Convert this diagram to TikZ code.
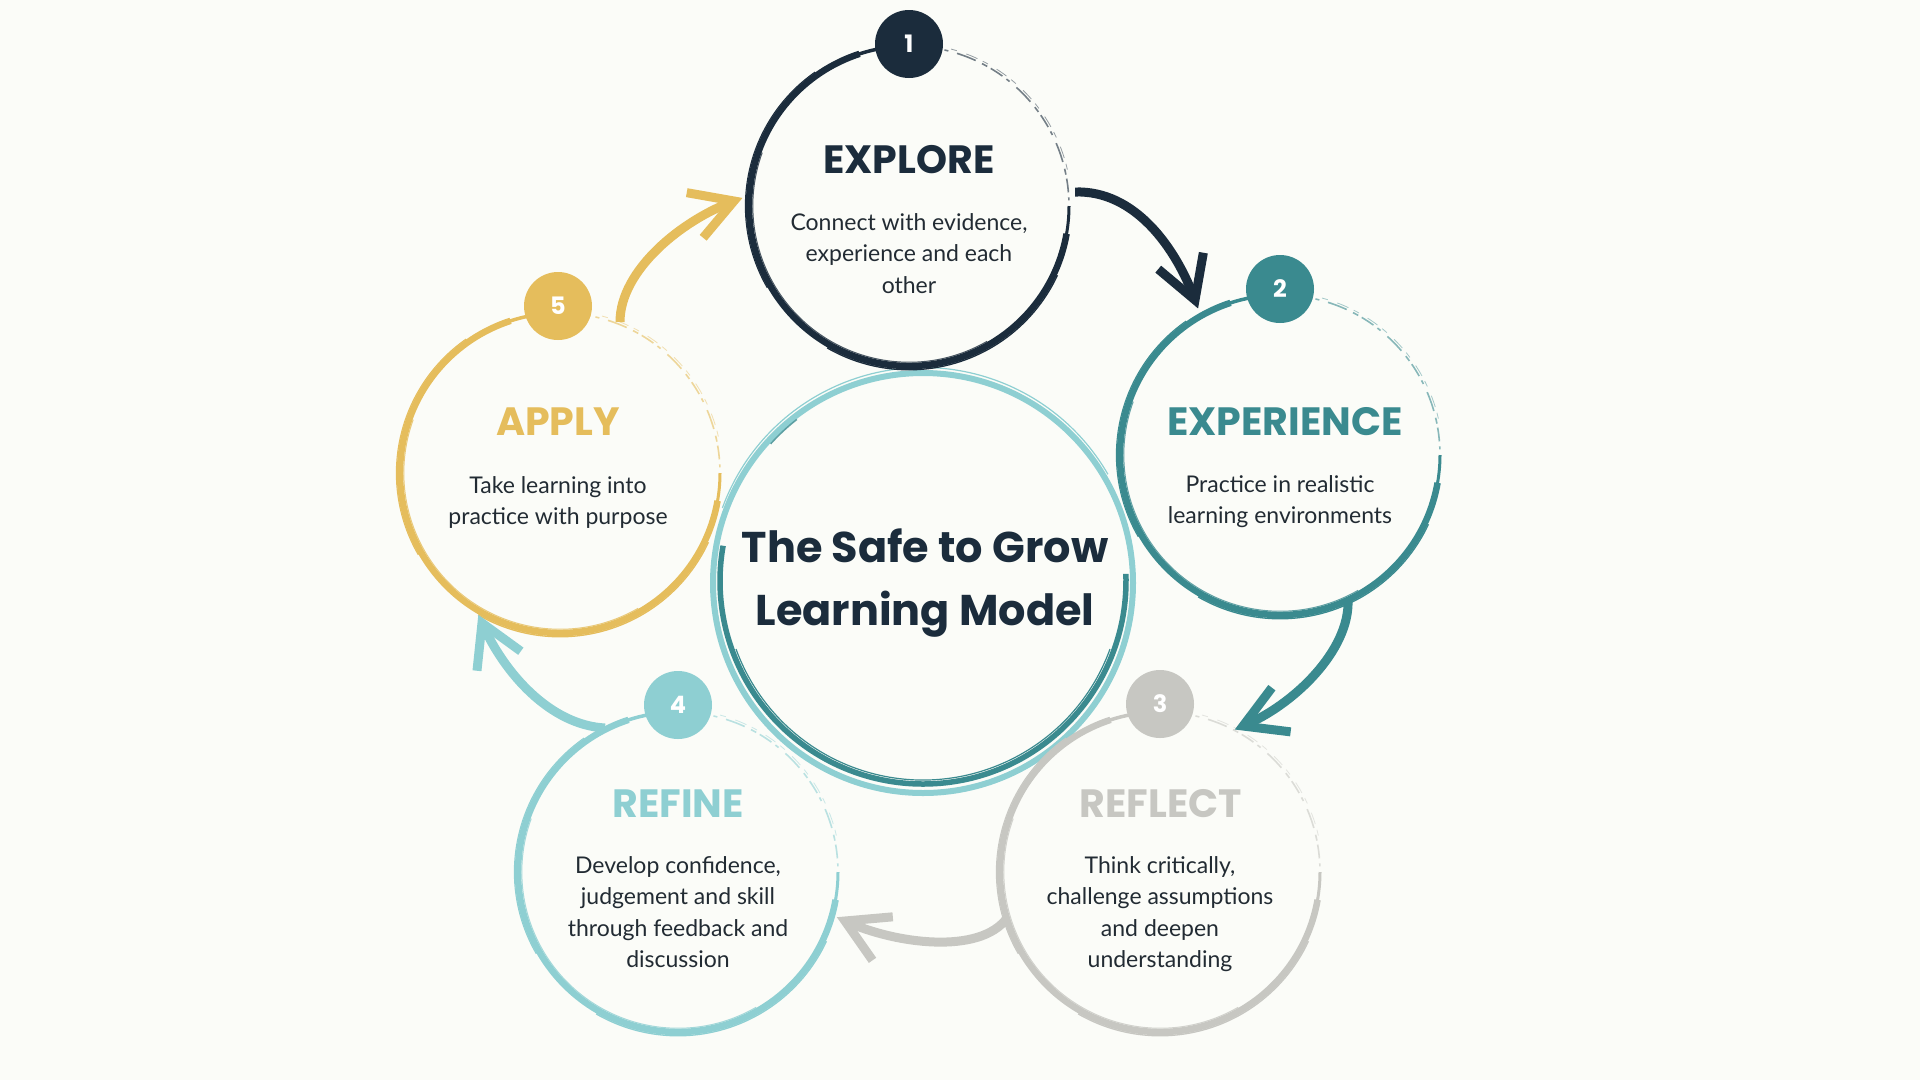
\documentclass[tikz,border=0pt]{standalone}
\usepackage{fontspec}
\setmainfont{Poppins}
\newfontfamily\descfont{Lato}
\definecolor{cbg}{RGB}{251,252,248}
\definecolor{cnavy}{HTML}{1B2C3C}
\definecolor{cteal}{HTML}{3A8A8F}
\definecolor{clteal}{HTML}{8ECFD2}
\definecolor{cgold}{HTML}{E5BD5C}
\definecolor{cgray}{HTML}{C7C7C2}
\definecolor{ctext}{HTML}{222B33}

% rough brush ring: #1 centre node, #2 radius, #3 colour
\newcommand\brushring[3]{%
  \begin{scope}[shift={(#1.center)}, #3]
    \draw[line width=6.5pt] (10:#2) arc[start angle=10, end angle=252, radius=#2];
    \draw[line width=3pt] (0:#2) arc[start angle=0, end angle=12, radius=#2];
    \draw[line width=3.5pt] (250:#2) arc[start angle=250, end angle=265, radius=#2];
    \draw[line width=1.3pt] (25:{#2+3.8}) arc[start angle=25, end angle=120, radius={#2+3.8}];
    \draw[line width=1.1pt] (150:{#2+3.6}) arc[start angle=150, end angle=235, radius={#2+3.6}];
    \draw[line width=1pt, opacity=0.8] (60:{#2-3.8}) arc[start angle=60, end angle=200, radius={#2-3.8}];
    \draw[line width=1.6pt, opacity=0.6, dash pattern=on 14pt off 5pt on 4pt off 9pt on 20pt off 7pt on 6pt off 4pt]
      (276:#2) arc[start angle=276, end angle=358, radius=#2];
    \draw[line width=0.8pt, opacity=0.45, dash pattern=on 6pt off 10pt on 12pt off 6pt]
      (285:{#2+2.5}) arc[start angle=285, end angle=350, radius={#2+2.5}];
  \end{scope}}

\newcommand\desctext[1]{{\descfont\fontsize{23}{31.5}\selectfont\begin{tabular}[t]{@{}c@{}}#1\end{tabular}}}

% open chevron arrow head: #1 tip coordinate, #2 back direction (angle, y down), #3 colour
\newcommand\chevron[3]{%
  \draw[chevhead, #3] ([shift={({#2-30}:48)}]#1) -- (#1) -- ([shift={({#2+30}:48)}]#1);}

\tikzset{
  ring/.style={circle, minimum size=320pt, inner sep=0pt},
  badge/.style={circle, minimum size=68pt, inner sep=0pt, text=white,
    font=\bfseries\fontsize{24}{24}\selectfont},
  steptitle/.style={anchor=base, inner sep=0pt, font=\bfseries\fontsize{39.5}{39.5}\selectfont},
  stepdesc/.style={anchor=base, inner sep=0pt, text=ctext},
  flow/.style={line width=9pt},
  chevhead/.style={line width=9pt, line join=miter, miter limit=10},
}

\begin{document}
\begin{tikzpicture}[x=1pt, y=-1pt]
\fill[cbg] (0,0) rectangle (1920,1080);
\useasboundingbox (0,0) rectangle (1920,1080);

% ring anchors
\node[ring] (c1) at (909,206) {};
\node[ring] (c2) at (1280,455) {};
\node[ring] (c3) at (1160,872) {};
\node[ring] (c4) at (678,872) {};
\node[ring] (c5) at (560,473) {};
\node[circle, minimum size=420pt, inner sep=0pt] (cc) at (923,581) {};

% centre ring (two overlapping strokes)
\begin{scope}[shift={(cc.center)}]
  \draw[clteal, line width=6pt] (0,2) circle[radius=210];
  \draw[clteal, line width=1.2pt] (200:213.5) arc[start angle=200, end angle=330, radius=213.5];
  \draw[cteal, line width=5.5pt] (-2:203) arc[start angle=-2, end angle=190, radius=203];
  \draw[cteal, line width=1.2pt] (20:199) arc[start angle=20, end angle=160, radius=199];
  \draw[cteal, line width=1.5pt, opacity=0.8] (222:205) arc[start angle=222, end angle=232, radius=205];
\end{scope}

% step rings
\brushring{c1}{160}{cnavy}
\brushring{c2}{160}{cteal}
\brushring{c3}{160}{cgray}
\brushring{c4}{160}{clteal}
\brushring{c5}{160}{cgold}

% badges
\node[badge, fill=cnavy] (b1) at (909,44) {1};
\node[badge, fill=cteal] (b2) at (1280,289) {2};
\node[badge, fill=cgray] (b3) at (1160,704) {3};
\node[badge, fill=clteal] (b4) at (678,705) {4};
\node[badge, fill=cgold] (b5) at (558,306) {5};

% titles
\node[steptitle, text=cnavy] (t1) at (909,173) {EXPLORE};
\node[steptitle, text=cteal] (t2) at (1285,435) {EXPERIENCE};
\node[steptitle, text=cgray] (t3) at (1161,817) {REFLECT};
\node[steptitle, text=clteal] (t4) at (678,817) {REFINE};
\node[steptitle, text=cgold] (t5) at (558,435) {APPLY};

% descriptions
\node[stepdesc] (d1) at (909,230) {\desctext{Connect with evidence,\\experience and each\\other}};
\node[stepdesc] (d2) at (1280,492) {\desctext{Practice in realistic\\learning environments}};
\node[stepdesc] (d3) at (1160,873) {\desctext{Think critically,\\challenge assumptions\\and deepen\\understanding}};
\node[stepdesc] (d4) at (678,873) {\desctext{Develop confidence,\\judgement and skill\\through feedback and\\discussion}};
\node[stepdesc] (d5) at (558,493) {\desctext{Take learning into\\practice with purpose}};

% centre title
\node[anchor=base, inner sep=0pt, text=cnavy, font=\bfseries\fontsize{43}{63}\selectfont, align=center] (title) at (925,562)
  {\begin{tabular}[t]{@{}c@{}}The Safe to Grow\\Learning Model\end{tabular}};

% connector end points
\coordinate (a1s) at (1075,192); \coordinate (a1e) at (1195,300);
\coordinate (a2s) at (1348,600); \coordinate (a2e) at (1243,726);
\coordinate (a3s) at (1007,918); \coordinate (a3e) at (845,921);
\coordinate (a4s) at (605,728);  \coordinate (a4e) at (482,623);
\coordinate (a5s) at (620,322);  \coordinate (a5e) at (734,201);

\draw[flow, cnavy] (a1s) .. controls (1135,190) and (1176,248) .. (a1e);
\chevron{a1e}{250}{cnavy}
\draw[flow, cteal] (a2s) .. controls (1350,650) and (1294,705) .. (a2e);
\chevron{a2e}{337}{cteal}
\draw[flow, cgray] (a3s) .. controls (980,955) and (895,944) .. (a3e);
\chevron{a3e}{25}{cgray}
\draw[flow, clteal] (a4s) .. controls (550,725) and (504,673) .. (a4e);
\chevron{a4e}{66}{clteal}
\draw[flow, cgold] (a5s) .. controls (620,270) and (682,220) .. (a5e);
\chevron{a5e}{160}{cgold}
\end{tikzpicture}
\end{document}
